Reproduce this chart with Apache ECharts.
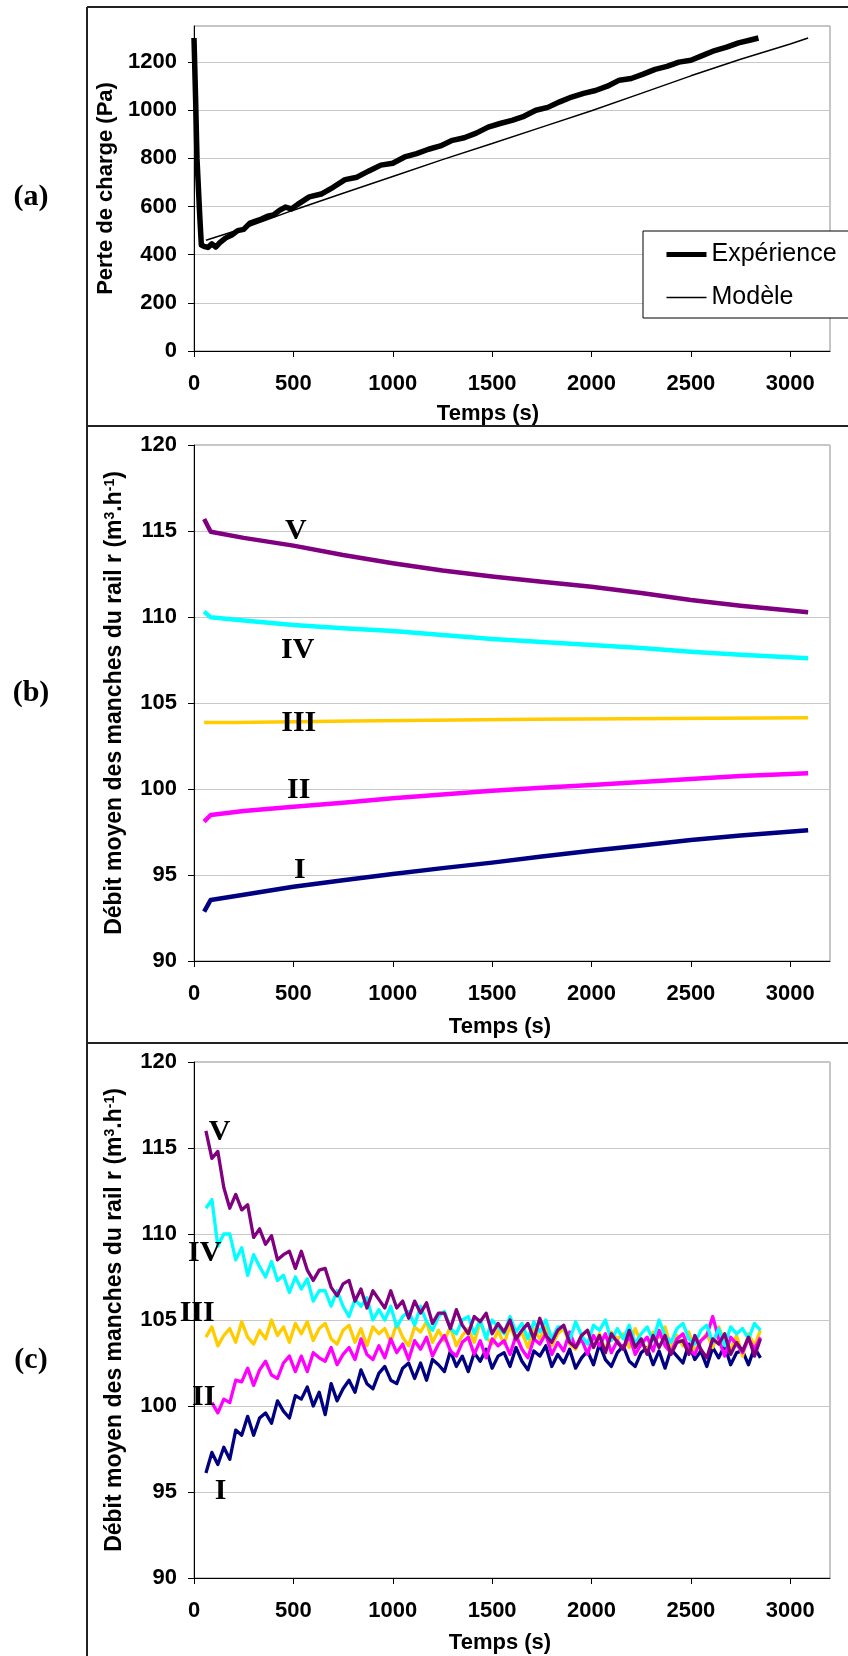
<!DOCTYPE html>
<html>
<head>
<meta charset="utf-8">
<script src="https://cdn.jsdelivr.net/npm/echarts@6/dist/echarts.min.js"></script>
<style>
  html, body { margin: 0; padding: 0; background: #fff; }
  #chart { width: 848px; height: 1656px; }
</style>
</head>
<body>
<div id="chart"></div>
<script>
// ---- data ----
const xTicks = [0, 500, 1000, 1500, 2000, 2500, 3000];
const yTicksA = [0, 200, 400, 600, 800, 1000, 1200];
const yTicksBC = [90, 95, 100, 105, 110, 115, 120];

// (a) pressure drop
const expT = [0, 8, 15, 29, 37, 50, 70, 90, 110, 130, 160, 190, 220, 250, 280, 310, 340, 370, 400, 430, 460, 490, 520, 580, 640, 700,
  760, 820, 880, 940, 1000, 1060, 1120, 1180, 1240, 1300, 1360, 1420, 1480, 1540, 1600, 1660, 1720, 1780, 1840, 1900,
  1960, 2020, 2080, 2140, 2200, 2260, 2320, 2380, 2440, 2500, 2560, 2620, 2680, 2740, 2800, 2840];
const expV = [1300, 1050, 800, 560, 440, 435, 430, 445, 432, 450, 470, 482, 500, 505, 530, 540, 548, 560, 565, 584, 598, 590, 608, 640, 652, 680,
  712, 722, 748, 772, 780, 806, 820, 838, 852, 875, 886, 905, 930, 945, 958, 975, 1000, 1012, 1035, 1055,
  1070, 1082, 1100, 1125, 1132, 1150, 1170, 1182, 1200, 1208, 1228, 1248, 1262, 1280, 1292, 1300];
const modT = [60, 250, 500, 750, 1000, 1250, 1500, 1750, 2000, 2250, 2500, 2750, 3000, 3090];
const modV = [460, 510, 585, 655, 725, 795, 862, 930, 998, 1070, 1143, 1212, 1275, 1300];

// (b) model flow rates per row
const bT = [51, 84, 250, 500, 750, 1000, 1250, 1500, 1750, 2000, 2250, 2500, 2750, 3090];
const bV = [115.7, 114.96, 114.6, 114.15, 113.6, 113.12, 112.7, 112.35, 112.05, 111.76, 111.4, 110.99, 110.65, 110.27];
const bIV = [110.31, 109.98, 109.8, 109.53, 109.35, 109.19, 108.95, 108.72, 108.55, 108.37, 108.2, 107.98, 107.8, 107.6];
const bII = [98.1, 98.49, 98.72, 98.97, 99.2, 99.46, 99.68, 99.9, 100.07, 100.23, 100.4, 100.58, 100.75, 100.91];
const bI = [92.87, 93.55, 93.85, 94.32, 94.7, 95.06, 95.4, 95.72, 96.07, 96.41, 96.72, 97.03, 97.3, 97.6];
const bIIIT = [51, 205, 210, 805, 810, 1715, 1720, 3090];
const bIIIV = [103.86, 103.86, 103.95, 103.95, 104.05, 104.05, 104.14, 104.14];

// (c) measured flow rates per row, one reading every 30 s
const tC = [60, 90, 120, 150, 180, 210, 240, 270, 300, 330,
  360, 390, 420, 450, 480, 510, 540, 570, 600, 630,
  660, 690, 720, 750, 780, 810, 840, 870, 900, 930,
  960, 990, 1020, 1050, 1080, 1110, 1140, 1170, 1200, 1230,
  1260, 1290, 1320, 1350, 1380, 1410, 1440, 1470, 1500, 1530,
  1560, 1590, 1620, 1650, 1680, 1710, 1740, 1770, 1800, 1830,
  1860, 1890, 1920, 1950, 1980, 2010, 2040, 2070, 2100, 2130,
  2160, 2190, 2220, 2250, 2280, 2310, 2340, 2370, 2400, 2430,
  2460, 2490, 2520, 2550, 2580, 2610, 2640, 2670, 2700, 2730,
  2760, 2790, 2820, 2850];
const cV = [116.0, 114.4, 114.8, 112.7, 111.5, 112.3, 111.4, 111.7, 109.8, 110.3,
  109.4, 109.9, 108.5, 108.8, 109.0, 108.0, 109.0, 107.9, 107.3, 107.9,
  108.0, 106.9, 106.4, 107.1, 107.3, 106.1, 106.8, 105.7, 106.7, 106.2,
  105.7, 106.7, 105.7, 106.1, 105.1, 106.1, 105.4, 106.0, 104.8, 105.4,
  105.4, 104.5, 105.6, 104.7, 104.2, 105.2, 104.9, 105.4, 104.2, 104.8,
  104.3, 105.0, 103.9, 104.4, 104.8, 103.9, 105.1, 104.1, 103.7, 104.4,
  104.7, 103.7, 103.4, 104.1, 104.4, 103.4, 104.1, 103.1, 104.2, 103.7,
  103.3, 104.4, 103.4, 103.9, 103.0, 104.1, 103.4, 104.1, 103.0, 103.7,
  103.8, 103.0, 104.1, 103.3, 102.8, 103.9, 103.6, 104.2, 103.0, 103.7,
  103.2, 104.0, 102.9, 103.9];
const cIV = [111.5, 112.0, 109.3, 110.0, 110.0, 108.5, 109.2, 107.6, 108.8, 108.1,
  107.5, 108.4, 107.3, 107.6, 106.6, 107.5, 106.8, 107.4, 106.1, 106.7,
  106.7, 105.8, 106.7, 105.8, 105.2, 106.2, 105.8, 106.3, 105.0, 105.6,
  105.0, 105.8, 104.6, 105.2, 105.5, 104.7, 105.8, 104.9, 104.4, 105.2,
  105.5, 104.5, 104.2, 105.0, 105.2, 104.2, 105.0, 103.9, 105.0, 104.6,
  104.2, 105.2, 104.3, 104.8, 103.9, 104.9, 104.3, 105.0, 103.9, 104.6,
  104.6, 103.8, 104.9, 104.1, 103.6, 104.7, 104.4, 105.0, 103.8, 104.5,
  103.9, 104.7, 103.6, 104.2, 104.6, 103.8, 105.0, 104.1, 103.7, 104.5,
  104.8, 103.9, 103.6, 104.4, 104.7, 103.7, 104.5, 103.5, 104.6, 104.2,
  104.5, 103.9, 104.8, 104.4];
const cIII = [104.0, 104.6, 103.5, 104.1, 104.5, 103.7, 104.9, 104.0, 103.6, 104.4,
  103.9, 105.0, 104.1, 104.6, 103.7, 104.8, 104.2, 104.9, 103.8, 104.5,
  104.8, 103.9, 103.6, 104.4, 104.7, 103.7, 104.5, 103.5, 104.6, 104.2,
  104.5, 103.7, 104.8, 104.0, 103.5, 104.6, 104.3, 104.9, 103.7, 104.4,
  103.8, 104.6, 103.5, 104.1, 104.5, 103.7, 104.9, 104.0, 103.6, 104.4,
  103.6, 104.7, 103.8, 104.3, 103.4, 104.5, 103.9, 104.6, 103.5, 104.2,
  104.5, 103.6, 103.3, 104.1, 104.4, 103.4, 104.2, 103.2, 104.3, 103.9,
  104.2, 103.4, 104.5, 103.7, 103.2, 104.3, 104.0, 104.6, 103.4, 104.1,
  103.5, 104.3, 103.2, 103.8, 104.2, 103.4, 104.6, 103.7, 103.3, 104.1,
  102.9, 104.2, 103.5, 104.4];
const cII = [null, 100.2, 99.6, 100.4, 100.2, 101.5, 101.4, 102.2, 101.2, 102.1,
  102.6, 101.8, 101.6, 102.5, 102.9, 102.0, 102.9, 102.0, 103.1, 102.8,
  102.6, 103.4, 102.4, 103.0, 103.4, 102.7, 103.9, 103.0, 102.7, 103.5,
  102.8, 103.9, 103.1, 103.6, 102.7, 103.8, 103.3, 104.0, 102.9, 103.6,
  104.1, 103.2, 102.9, 103.7, 104.0, 103.0, 103.8, 102.8, 103.9, 103.5,
  103.8, 103.0, 104.1, 103.3, 102.8, 103.9, 103.6, 104.2, 103.0, 103.7,
  103.2, 104.3, 103.4, 103.9, 103.0, 104.1, 103.5, 104.2, 103.1, 103.8,
  103.3, 104.1, 103.0, 103.6, 104.0, 103.2, 104.4, 103.5, 103.1, 103.9,
  104.2, 103.3, 103.0, 103.8, 104.1, 105.2, 103.9, 102.9, 104.0, 103.6,
  103.1, 103.9, 103.3, 104.0];
const cI = [96.1, 97.3, 96.6, 97.6, 96.9, 98.6, 98.3, 99.4, 98.3, 99.3,
  99.6, 99.0, 100.3, 99.7, 99.3, 100.6, 100.4, 101.1, 100.0, 100.8,
  99.5, 101.3, 100.3, 101.0, 101.5, 100.8, 102.1, 101.3, 101.0, 101.9,
  102.3, 101.5, 101.3, 102.2, 102.5, 101.6, 102.5, 101.5, 102.7, 102.4,
  102.0, 103.2, 102.3, 102.9, 102.0, 103.1, 102.6, 103.3, 102.2, 102.9,
  103.1, 102.3, 103.4, 102.6, 102.1, 103.2, 102.9, 103.5, 102.3, 103.0,
  102.5, 103.3, 102.2, 102.8, 103.2, 102.4, 103.6, 102.7, 102.3, 103.1,
  103.5, 102.6, 102.3, 103.1, 103.4, 102.4, 103.2, 102.2, 103.3, 102.9,
  102.5, 103.6, 102.7, 103.2, 102.3, 103.4, 102.8, 103.5, 102.4, 103.1,
  103.2, 102.4, 103.4, 102.8];

// row names and where their tags sit (data coords)
const rows = ['I', 'II', 'III', 'IV', 'V'];
const tagB = [[532, 95.29], [527, 99.94], [527, 103.84], [522, 108.08], [512, 115.0]];
const tagC = [[134, 95.07], [49, 100.53], [16, 105.41], [54, 108.89], [129, 115.93]];

// ---- styling ----
const SANS = 'Liberation Sans, Arial, sans-serif';
const SERIF = 'Liberation Serif, Times New Roman, serif';
const rowColors = { I: '#000080', II: '#ff00ff', III: '#ffcc00', IV: '#00ffff', V: '#800080' };

const pairs = (xs, ys) => xs.map((x, i) => [x, ys[i]]);
const plain = (v) => String(v);

function xAxisFor(gi, nameGap, namePad) {
    return {
        type: 'value', gridIndex: gi, min: 0, max: 3200, interval: 500,
        name: 'Temps (s)', nameLocation: 'middle', nameGap: nameGap,
        nameTextStyle: { fontFamily: SANS, fontWeight: 'bold', fontSize: 22, color: '#000', padding: [0, namePad, 0, 0] },
        axisLine: { show: true, onZero: false, lineStyle: { color: '#000', width: 1 } },
        axisTick: { show: true, length: 6, lineStyle: { color: '#000' }, customValues: xTicks },
        axisLabel: { fontFamily: SANS, fontWeight: 'bold', fontSize: 22, color: '#000', margin: 22, customValues: xTicks, formatter: plain },
        splitLine: { show: false }
    };
}

function yAxisFor(gi, min, max, interval, ticks, name, nameGap, nameSize) {
    return {
        type: 'value', gridIndex: gi, min: min, max: max, interval: interval,
        name: name, nameLocation: 'middle', nameGap: nameGap,
        nameTextStyle: {
            fontFamily: SANS, fontWeight: 'bold', fontSize: nameSize, color: '#000',
            rich: {
                t: { fontFamily: SANS, fontWeight: 'bold', fontSize: nameSize, color: '#000' },
                s: { fontFamily: SANS, fontWeight: 'bold', fontSize: 14, color: '#000', verticalAlign: 'top', lineHeight: 14 }
            }
        },
        axisLine: { show: true, onZero: false, lineStyle: { color: '#000', width: 1 } },
        axisTick: { show: true, length: 6, lineStyle: { color: '#000' }, customValues: ticks },
        axisLabel: { fontFamily: SANS, fontWeight: 'bold', fontSize: 22, color: '#000', margin: 17, customValues: ticks, formatter: plain },
        splitLine: { show: true, lineStyle: { color: '#c8c8c8', width: 1 } }
    };
}

function tagMark(name, coord) {
    return {
        silent: true, animation: false,
        symbol: 'circle', symbolSize: 1,
        itemStyle: { color: 'rgba(0,0,0,0)' },
        label: { show: true, position: 'inside', formatter: '{b}', fontFamily: SERIF, fontWeight: 'bold', fontSize: 30, color: '#000' },
        data: [{ name: name, coord: coord }]
    };
}

const debitName = '{t|Débit moyen des manches du rail r (m}{s|3}{t|.h}{s|-1}{t|)}';

const series = [
    {
        name: 'Expérience', type: 'line', xAxisIndex: 0, yAxisIndex: 0,
        data: pairs(expT, expV), symbol: 'none', z: 3,
        lineStyle: { color: '#000', width: 5.5, join: 'round' }, itemStyle: { color: '#000' }
    },
    {
        name: 'Modèle', type: 'line', xAxisIndex: 0, yAxisIndex: 0,
        data: pairs(modT, modV), symbol: 'none',
        lineStyle: { color: '#000', width: 1.5 }, itemStyle: { color: '#000' }
    }
];

// (b) smooth model curves
const bSets = { I: pairs(bT, bI), II: pairs(bT, bII), III: pairs(bIIIT, bIIIV), IV: pairs(bT, bIV), V: pairs(bT, bV) };
rows.forEach((r, i) => {
    series.push({
        name: 'b ' + r, type: 'line', xAxisIndex: 1, yAxisIndex: 1,
        data: bSets[r], symbol: 'none',
        lineStyle: { color: rowColors[r], width: r === 'III' ? 3.5 : 4.5, join: 'round' },
        markPoint: tagMark(r, tagB[i])
    });
});

// (c) noisy measurements, drawn I, III, II, IV, V
const cSets = { I: cI, II: cII, III: cIII, IV: cIV, V: cV };
['I', 'III', 'II', 'IV', 'V'].forEach((r) => {
    series.push({
        name: 'c ' + r, type: 'line', xAxisIndex: 2, yAxisIndex: 2,
        data: pairs(tC, cSets[r]), symbol: 'none', connectNulls: false,
        lineStyle: { color: rowColors[r], width: 3.3, join: 'round' },
        markPoint: tagMark(r, tagC[rows.indexOf(r)])
    });
});

// panel frames and (a)/(b)/(c) tags
const frame = { stroke: '#222', lineWidth: 2 };
const graphic = [
    { type: 'line', shape: { x1: 87, y1: 7, x2: 848, y2: 7 }, style: frame },
    { type: 'line', shape: { x1: 87, y1: 7, x2: 87, y2: 1656 }, style: frame },
    { type: 'line', shape: { x1: 87, y1: 426, x2: 848, y2: 426 }, style: frame },
    { type: 'line', shape: { x1: 87, y1: 1043, x2: 848, y2: 1043 }, style: frame }
];
[['(a)', 197], ['(b)', 693], ['(c)', 1360]].forEach(([t, y]) => {
    graphic.push({
        type: 'text', x: 31, y: y,
        style: { text: t, font: 'bold 30px ' + SERIF, fill: '#000', align: 'center', verticalAlign: 'middle' }
    });
});

const gridStyle = { show: true, borderColor: '#8c8c8c', borderWidth: 1, backgroundColor: 'transparent' };

const option = {
    animation: false,
    backgroundColor: '#fff',
    grid: [
        Object.assign({ left: 194, top: 26, width: 636, height: 325 }, gridStyle),
        Object.assign({ left: 194, top: 445, width: 636, height: 516 }, gridStyle),
        Object.assign({ left: 194, top: 1062, width: 636, height: 516 }, gridStyle)
    ],
    xAxis: [xAxisFor(0, 52, 48), xAxisFor(1, 55, 24), xAxisFor(2, 54, 24)],
    yAxis: [
        yAxisFor(0, 0, 1350, 200, yTicksA, 'Perte de charge (Pa)', 66, 22),
        yAxisFor(1, 90, 120, 5, yTicksBC, debitName, 68, 23),
        yAxisFor(2, 90, 120, 5, yTicksBC, debitName, 68, 23)
    ],
    legend: {
        left: 643, top: 231, orient: 'vertical',
        padding: [11, 70, 8, 21], itemGap: 18, itemWidth: 40, itemHeight: 14,
        backgroundColor: '#fff', borderColor: '#000', borderWidth: 1,
        itemStyle: { opacity: 0 },
        textStyle: { fontFamily: SANS, fontSize: 25, color: '#000' },
        data: [
            { name: 'Expérience', lineStyle: { width: 5 } },
            { name: 'Modèle', lineStyle: { width: 1.5 } }
        ]
    },
    graphic: graphic,
    series: series
};

const chart = echarts.init(document.getElementById('chart'), null, { renderer: 'canvas' });
chart.setOption(option);
</script>
</body>
</html>
